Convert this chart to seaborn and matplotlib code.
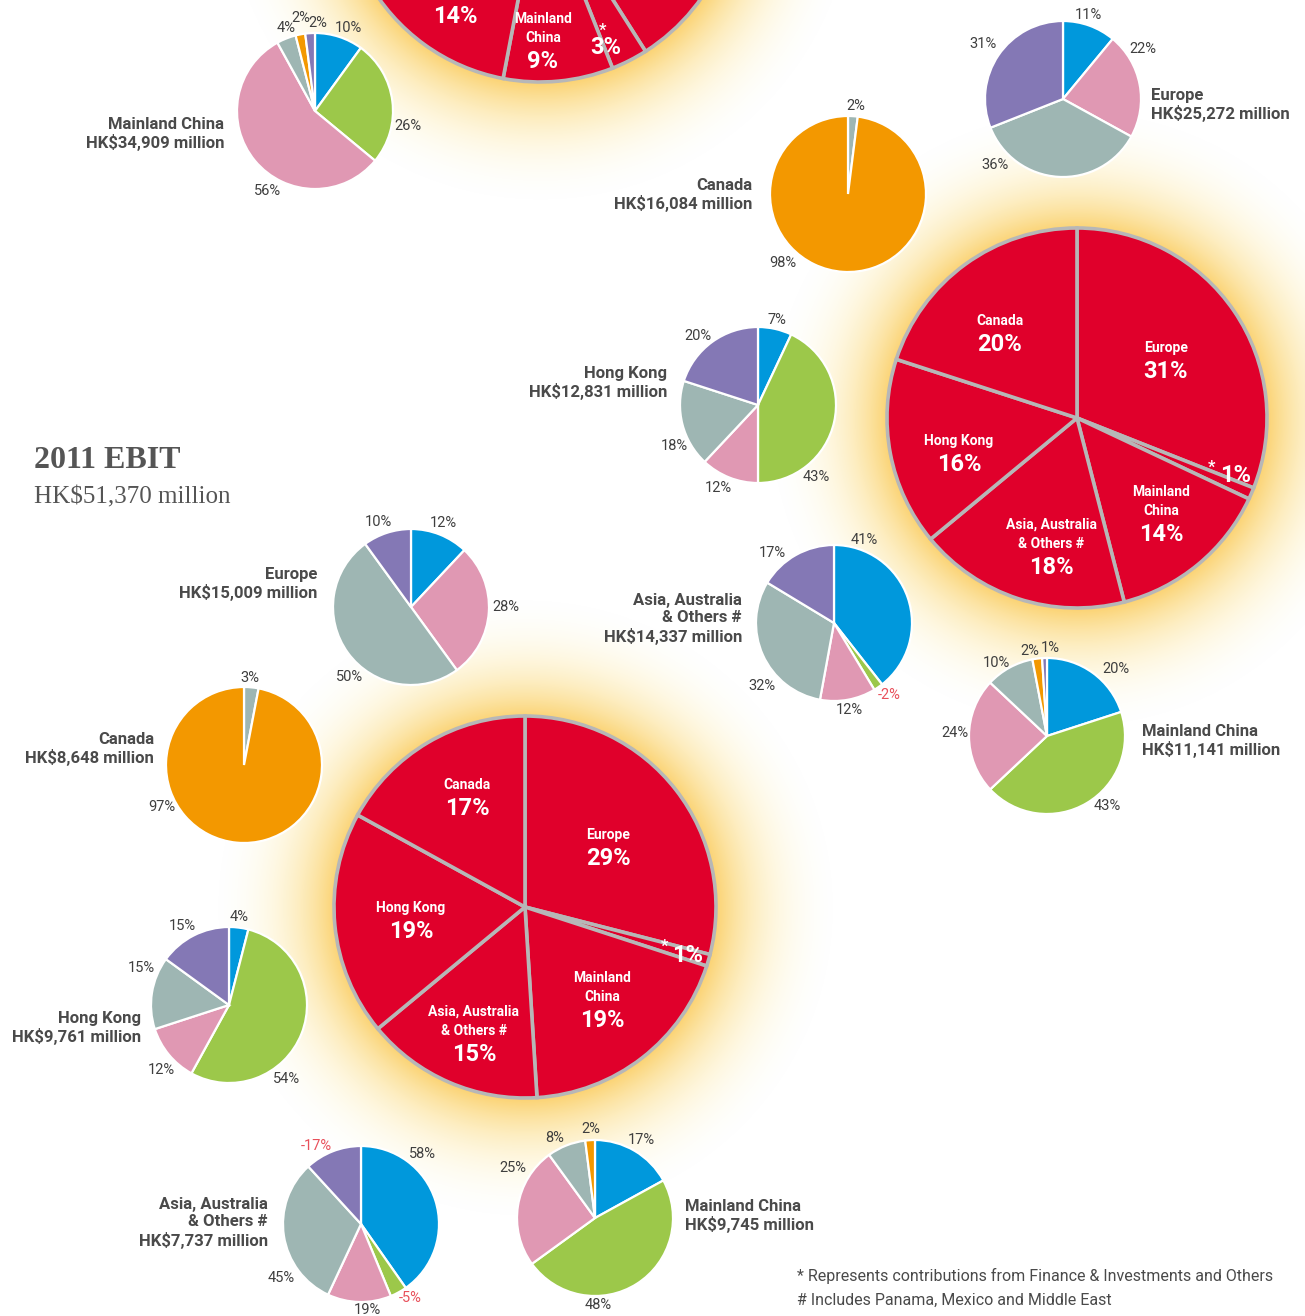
import numpy as np
import matplotlib
matplotlib.use("Agg")
import matplotlib.pyplot as plt
from matplotlib import font_manager
from matplotlib.colors import to_rgb
import seaborn as sns

W, H = 1305, 1316

# business colours: ports, property & hotels, retail, infrastructure, energy, telecoms
seg_colors = ["#0098dc", "#9cc84a", "#e098b3", "#9eb6b3", "#f39800", "#8478b5"]
RED = "#e0002b"
TXT = "#3f3f3f"
NEG = "#e8505b"

# small pies, % by business (same order as seg_colors, 0 = not present)
rev_mainland = [10, 26, 56, 4, 2, 2]
ebitda_europe = [11, 0, 22, 36, 0, 31]
ebitda_canada = [0, 0, 0, 2, 98, 0]
ebitda_hk = [7, 43, 12, 18, 0, 20]
ebitda_asia = [41, -2, 12, 32, 0, 17]
ebitda_mainland = [20, 43, 24, 10, 2, 1]
ebit_europe = [12, 0, 28, 50, 0, 10]
ebit_canada = [0, 0, 0, 3, 97, 0]
ebit_hk = [4, 54, 12, 15, 0, 15]
ebit_asia = [58, -5, 19, 45, 0, -17]
ebit_mainland = [17, 48, 25, 8, 2, 0]

# big pies, % by region
regions = ["Europe", "*", "Mainland\nChina", "Asia, Australia\n& Others #", "Hong Kong", "Canada"]
revenue_share = [41, 3, 9, 14, 13, 20]   # top pie, mostly cut off
ebitda_share = [31, 1, 14, 18, 16, 20]
ebit_share = [29, 1, 19, 15, 19, 17]

small_titles = {
    "rev_mainland": "Mainland China\nHK$34,909 million",
    "ebitda_europe": "Europe\nHK$25,272 million",
    "ebitda_canada": "Canada\nHK$16,084 million",
    "ebitda_hk": "Hong Kong\nHK$12,831 million",
    "ebitda_asia": "Asia, Australia\n& Others #\nHK$14,337 million",
    "ebitda_mainland": "Mainland China\nHK$11,141 million",
    "ebit_europe": "Europe\nHK$15,009 million",
    "ebit_canada": "Canada\nHK$8,648 million",
    "ebit_hk": "Hong Kong\nHK$9,761 million",
    "ebit_asia": "Asia, Australia\n& Others #\nHK$7,737 million",
    "ebit_mainland": "Mainland China\nHK$9,745 million",
}

# ---- layout (pixels from top-left) ----
# small pie: centre, title anchor, title alignment, % label offsets from centre
small_layout = {
    "rev_mainland": ((315, 111), (224, 134), "right",
                     [(33, -83), (93, 15), (-47, 80), (-29, -83), (-14, -93), (3, -88)]),
    "ebitda_europe": ((1063, 99), (1151, 105), "left",
                      [(25, -84), (80, -50), (-68, 66), (-80, -55)]),
    "ebitda_canada": ((848, 194), (752, 195), "right", [(8, -88), (-65, 69)]),
    "ebitda_hk": ((758, 405), (667, 383), "right",
                  [(19, -85), (58, 72), (-40, 83), (-84, 41), (-60, -69)]),
    "ebitda_asia": ((834, 623), (742, 619), "right",
                    [(30, -83), (55, 72), (15, 87), (-72, 63), (-62, -70)]),
    "ebitda_mainland": ((1047, 736), (1142, 741), "left",
                        [(69, -67), (60, 70), (-92, -3), (-51, -73), (-17, -85), (3, -88)]),
    "ebit_europe": ((411, 607), (317, 584), "right",
                    [(32, -84), (95, 0), (-61, 70), (-33, -85)]),
    "ebit_canada": ((244, 765), (154, 749), "right", [(6, -87), (-82, 42)]),
    "ebit_hk": ((229, 1005), (141, 1028), "right",
                [(10, -88), (58, 74), (-68, 65), (-88, -37), (-47, -79)]),
    "ebit_asia": ((361, 1224), (268, 1223), "right",
                  [(61, -70), (49, 74), (6, 86), (-80, 54), (-45, -78)]),
    "ebit_mainland": ((595, 1218), (685, 1216), "left",
                      [(46, -78), (3, 87), (-82, -50), (-40, -80), (-4, -89)]),
}
small_values = {
    "rev_mainland": rev_mainland, "ebitda_europe": ebitda_europe,
    "ebitda_canada": ebitda_canada, "ebitda_hk": ebitda_hk, "ebitda_asia": ebitda_asia,
    "ebitda_mainland": ebitda_mainland, "ebit_europe": ebit_europe,
    "ebit_canada": ebit_canada, "ebit_hk": ebit_hk, "ebit_asia": ebit_asia,
    "ebit_mainland": ebit_mainland,
}
# big pie: centre, radius, label anchors (offset from centre) for each region,
# offsets for "*" and its %
big_layout = [
    (revenue_share, (540, -115), 197,
     [None, None, (3, 166), (-85, 121), None, None], (63, 145), (66, 162)),
    (ebitda_share, (1077, 418), 190,
     [(89, -57), None, (84, 106), (-26, 139), (-118, 36), (-77, -84)],
     (135, 49), (159, 58)),
    (ebit_share, (525, 907), 191,
     [(83, -59), None, (77, 103), (-51, 137), (-114, 14), (-58, -109)],
     (140, 39), (163, 48)),
]

# ---- fonts ----
sns.set_theme(style="white")
avail = {f.name for f in font_manager.fontManager.ttflist}
SANS = next((n for n in ["Liberation Sans Narrow", "Roboto", "Liberation Sans"] if n in avail),
            "DejaVu Sans")
SERIF = "Liberation Serif" if "Liberation Serif" in avail else "DejaVu Serif"
plt.rcParams["font.family"] = [SANS, "DejaVu Sans"]

fig = plt.figure(figsize=(W / 100, H / 100), dpi=100)
ax = fig.add_axes([0, 0, 1, 1])


def Y(y):
    # picture rows are counted from the top
    return H - y


# ---- soft yellow glow behind the big pies ----
yy, xx = np.mgrid[0:H:2, 0:W:2]
glow = np.zeros(xx.shape)
for _, (cx, cy), r, *rest in big_layout:
    d = np.hypot(xx - cx, yy - cy)
    glow = np.maximum(glow, np.clip(1 - (d - r) / 120, 0, 1) ** 1.5)
inner, outer = np.array(to_rgb("#fac850")), np.array(to_rgb("#fff2b4"))
rgba = np.zeros(glow.shape + (4,))
rgba[..., :3] = outer * (1 - glow[..., None]) + inner * glow[..., None]
rgba[..., 3] = glow * 0.8
ax.imshow(rgba, extent=(0, W, 0, H), origin="upper", zorder=0, interpolation="bilinear")


def small_pie(key, r=78):
    (cx, cy), (tx, ty), ha, offs = small_layout[key]
    vals = np.array(small_values[key], dtype=float)
    keep = vals != 0
    cols = [c for c, k in zip(seg_colors, keep) if k]
    ax.pie(np.abs(vals[keep]), colors=cols, startangle=90, counterclock=False,
           center=(cx, Y(cy)), radius=r,
           wedgeprops=dict(edgecolor="white", linewidth=1.6, zorder=3))
    for v, (dx, dy) in zip(vals[keep], offs):
        ax.text(cx + dx, Y(cy + dy), f"{v:.0f}%", ha="center", va="center", fontsize=10.5,
                color=NEG if v < 0 else TXT, zorder=4)
    ax.text(tx, Y(ty), small_titles[key], ha=ha, va="center", fontsize=12, fontweight="bold",
            color="#4a4a4a", linespacing=1.2, zorder=4)


def big_pie(vals, center, r, anchors, star_off, pct_off):
    cx, cy = center
    vals = np.array(vals, dtype=float)
    ax.pie(vals, colors=[RED] * len(vals), startangle=90, counterclock=False,
           center=(cx, Y(cy)), radius=r,
           wedgeprops=dict(edgecolor="#b7b7b7", linewidth=2.6, zorder=2))
    for name, v, a in zip(regions, vals, anchors):
        if name == "*":
            ax.text(cx + star_off[0], Y(cy + star_off[1]), "*", ha="center", va="center",
                    fontsize=12, color="white", fontweight="bold", zorder=5)
            ax.text(cx + pct_off[0], Y(cy + pct_off[1]), f"{v:.0f}%", ha="center",
                    va="center", fontsize=17, color="white", fontweight="bold", zorder=5)
            continue
        if a is None:
            continue
        x, y = cx + a[0], Y(cy + a[1])
        ax.text(x, y + 6, name, ha="center", va="bottom", fontsize=10, color="white",
                fontweight="bold", linespacing=1.45, zorder=5)
        ax.text(x, y + 1, f"{v:.0f}%", ha="center", va="top", fontsize=17, color="white",
                fontweight="bold", zorder=5)


for vals, center, r, anchors, s_off, p_off in big_layout:
    big_pie(vals, center, r, anchors, s_off, p_off)

for key in small_layout:
    small_pie(key)

ax.text(34, Y(461), "2011 EBIT", ha="left", va="center", fontsize=23, fontweight="bold",
        color="#555555", family=SERIF, zorder=5)
ax.text(34, Y(497), "HK$51,370 million", ha="left", va="center", fontsize=18,
        color="#555555", family=SERIF, zorder=5)

ax.text(797, Y(1276), "* Represents contributions from Finance & Investments and Others",
        ha="left", va="center", fontsize=11.5, color="#4a4a4a")
ax.text(797, Y(1300), "# Includes Panama, Mexico and Middle East",
        ha="left", va="center", fontsize=11.5, color="#4a4a4a")

ax.set_xlim(0, W)
ax.set_ylim(0, H)
ax.set_aspect("equal")
ax.axis("off")
fig.savefig("out.png", dpi=100, facecolor="white")
